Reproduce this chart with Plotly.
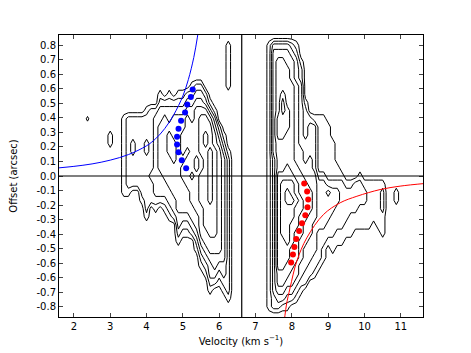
import plotly.graph_objects as go

# Velocity channels (km/s) and offset rows (arcsec, top to bottom)
velocity = [2.25, 2.375, 2.5, 2.625, 2.75, 2.875, 3.0, 3.125, 3.25, 3.375,
            3.5, 3.625, 3.75, 3.875, 4.0, 4.125, 4.25, 4.375, 4.5, 4.625,
            4.75, 4.875, 5.0, 5.125, 5.25, 5.375, 5.5, 5.625, 5.75, 5.875,
            6.0, 6.125, 6.25, 6.375, 6.5, 6.625, 6.75, 6.875, 7.0, 7.125,
            7.25, 7.375, 7.5, 7.625, 7.75, 7.875, 8.0, 8.125, 8.25, 8.375,
            8.5, 8.625, 8.75, 8.875, 9.0, 9.125, 9.25, 9.375, 9.5, 9.625,
            9.75, 9.875, 10.0, 10.125, 10.25, 10.375, 10.5, 10.625, 10.75, 10.875,
            11.0, 11.125, 11.25]
offset = [0.85, 0.80, 0.75, 0.70, 0.65, 0.60, 0.55, 0.50, 0.45, 0.40,
          0.35, 0.30, 0.25, 0.20, 0.15, 0.10, 0.05, 0.0, -0.05, -0.10,
          -0.15, -0.20, -0.25, -0.30, -0.35, -0.40, -0.45, -0.50, -0.55, -0.60,
          -0.65, -0.70, -0.75, -0.80, -0.85]

# Intensity per velocity channel: (first offset row, levels down the offset axis)
channels = [
    (0, ""), (10, "a"), (0, ""), (0, ""), (0, ""), (0, ""), (12, "11"), (0, ""), (0, ""),
    (10, "1111111111"),
    (10, "2222222221"),
    (10, "222332222"),
    (10, "222222222"),
    (10, "22222222221"),
    (9, "12223322222221"),
    (9, "222222223222"),
    (9, "2333333333321"),
    (7, "12334444443332"),
    (8, "23444444443321"),
    (7, "1233455544443321"),
    (8, "234445554444332"),
    (7, "1234444444444443321"),
    (7, "123445554554444321"),
    (7, "234555545555444321"),
    (6, "1234455555565554432"),
    (6, "234555555665555544321"),
    (6, "23456666655666655554321"),
    (7, "23566776666666666554321"),
    (8, "135666777777766665543321"),
    (9, "1345566666666666554432"),
    (11, "234" "5555555555555" "4321"),
    (12, "123" "4444444444444" "3321"),
    (1, "111111" "......." "1" "22222222222222222" "1"),
    (0, ""), (0, ""), (0, ""), (0, ""), (0, ""), (0, ""), (0, ""), (0, ""),
    (1, "11111111111111" "1111111111111111111"),
    (1, "3" "4444444444444" "33333333333333333" "22"),
    (1, "34" "5555555" "666" "5555" "666666666666" "55432"),
    (1, "3455556776665555" "67777777" "6666" "55431"),
    (1, "34455555666555566" "7887777" "7665543" "21"),
    (1, "23444" "55555555555" "6778776665554432"),
    (1, "12333" "4444444444" "55667666555544321"),
    (3, "122" "33333333" "444555665554443321"),
    (8, "12222333445555544433322"),
    (10, "2" "3333" "4444" "555" "444" "333" "22"),
    (10, "1" "333333" "444444" "3333" "22" "1"),
    (10, "1111111" "2" "333333" "2222" "1"),
    (10, "1111111" "2" "333333" "22" "11"),
    (11, "1111111" "2" "4333" "22" "1"),
    (13, "11111" "2" "333" "222" "11"),
    (16, "1123322211"),
    (17, "1" "222222" "11"),
    (18, "1222211"),
    (18, "1222111"),
    (18, "222211"),
    (17, "1222111"),
    (18, "122111"),
    (18, "111111"),
    (18, "11111"),
    (18, "111111"),
    (18, "1222111"),
    (0, ""), (0, ""),
    (19, "11"),
    (0, ""), (0, ""), (0, ""),
]
contour_levels = [0.5, 1.5, 2.5, 3.5, 4.5, 5.5, 6.5, 7.5]

systemic_velocity = 6.62

blue_curve_v = [1.55, 2.0, 2.5, 3.0, 3.5, 4.0, 4.25, 4.5, 4.75, 5.0, 5.15, 5.3, 5.4, 5.47]
blue_curve_off = [0.049, 0.059, 0.074, 0.097, 0.131, 0.185, 0.228, 0.29, 0.375, 0.49, 0.59, 0.725, 0.85, 0.95]
red_curve_v = [7.76, 7.85, 7.95, 8.135, 8.41, 8.87, 9.33, 9.79, 10.43, 10.98, 11.7]
red_curve_off = [-0.95, -0.79, -0.686, -0.522, -0.379, -0.236, -0.164, -0.124, -0.083, -0.062, -0.045]

blue_dots_v = [5.27, 5.22, 5.12, 5.06, 4.95, 4.88, 4.84, 4.84, 4.88, 4.97, 5.09]
blue_dots_off = [0.530, 0.483, 0.437, 0.388, 0.338, 0.289, 0.240, 0.193, 0.146, 0.097, 0.048]
red_dots_v = [8.34, 8.42, 8.45, 8.43, 8.37, 8.28, 8.20, 8.12, 8.07, 8.03, 7.98]
red_dots_off = [-0.046, -0.095, -0.144, -0.191, -0.240, -0.289, -0.336, -0.385, -0.434, -0.481, -0.530]

x_ticks = [2, 3, 4, 5, 6, 7, 8, 9, 10, 11]
y_tickvals = [0.8, 0.7111, 0.6222, 0.5333, 0.4444, 0.3556, 0.2667, 0.1778, 0.0889, 0.0,
              -0.0889, -0.1778, -0.2667, -0.3556, -0.4444, -0.5333, -0.6222, -0.7111, -0.8]
y_ticktext = ["0.8", "0.7", "0.6", "0.6", "0.5", "0.4", "0.3", "0.2", "0.1", "0.0",
              "-0.1", "-0.2", "-0.3", "-0.4", "-0.5", "-0.6", "-0.6", "-0.7", "-0.8"]

special = {".": 0.0, "a": 0.7}
z = [[0.0] * len(velocity) for _ in offset]
for i, (start, prof) in enumerate(channels):
    for k, ch in enumerate(prof):
        if start + k < len(offset):
            z[start + k][i] = special[ch] if ch in special else float(ch)


def contour_segments(level):
    """Linear marching squares on the (offset, velocity) grid -> polyline pieces."""
    xs, ys = [], []
    ny, nx = len(offset), len(velocity)
    for j in range(ny - 1):
        for i in range(nx - 1):
            c = [(velocity[i], offset[j], z[j][i]),
                 (velocity[i + 1], offset[j], z[j][i + 1]),
                 (velocity[i + 1], offset[j + 1], z[j + 1][i + 1]),
                 (velocity[i], offset[j + 1], z[j + 1][i])]
            pts = []
            for k in range(4):
                xa, ya, za = c[k]
                xb, yb, zb = c[(k + 1) % 4]
                if (za > level) != (zb > level):
                    t = (level - za) / (zb - za)
                    pts.append((xa + t * (xb - xa), ya + t * (yb - ya)))
                else:
                    pts.append(None)
            found = [p for p in pts if p is not None]
            if len(found) == 2:
                segs = [(found[0], found[1])]
            elif len(found) == 4:
                centre_high = sum(cc[2] for cc in c) / 4 > level
                if (c[1][2] > level) != centre_high:
                    segs = [(pts[0], pts[1]), (pts[2], pts[3])]
                else:
                    segs = [(pts[3], pts[0]), (pts[1], pts[2])]
            else:
                segs = []
            for p, q in segs:
                xs += [p[0], q[0], None]
                ys += [p[1], q[1], None]
    return xs, ys


font = "DejaVu Sans"
fig = go.Figure()
for lev in contour_levels:
    cx, cy = contour_segments(lev)
    fig.add_trace(go.Scatter(x=cx, y=cy, mode="lines", hoverinfo="skip",
                             line=dict(color="black", width=1)))
fig.add_trace(go.Scatter(x=blue_curve_v, y=blue_curve_off, mode="lines",
                         line=dict(color="#0000ff", width=1, shape="spline")))
fig.add_trace(go.Scatter(x=red_curve_v, y=red_curve_off, mode="lines",
                         line=dict(color="#ff0000", width=1, shape="spline")))
fig.add_trace(go.Scatter(x=blue_dots_v, y=blue_dots_off, mode="markers",
                         marker=dict(color="#0000ff", size=6, line=dict(width=0))))
fig.add_trace(go.Scatter(x=red_dots_v, y=red_dots_off, mode="markers",
                         marker=dict(color="#ff0000", size=6, line=dict(width=0))))
fig.add_hline(y=0, line=dict(color="black", width=1.2))
fig.add_vline(x=systemic_velocity, line=dict(color="black", width=1.2))

# page body adds an 8 px margin, so the figure is sized to fit the 471x353 window
fig.update_layout(
    width=463, height=345, showlegend=False,
    margin=dict(l=51, r=48, t=27, b=36),
    paper_bgcolor="white", plot_bgcolor="white",
    font=dict(family=font, size=10, color="black"),
)
fig.update_xaxes(range=[1.59, 11.61], tickvals=x_ticks, ticks="inside", ticklen=4,
                 mirror="allticks", showline=True, linecolor="black", linewidth=1,
                 showgrid=False, zeroline=False, tickfont=dict(size=10), automargin=False,
                 title=dict(text="Velocity (km s<sup>−1</sup>)", font=dict(size=10), standoff=6))
fig.update_yaxes(range=[-0.863, 0.863], tickvals=y_tickvals, ticktext=y_ticktext,
                 ticks="inside", ticklen=4, mirror="allticks", showline=True,
                 linecolor="black", linewidth=1, showgrid=False, zeroline=False,
                 tickfont=dict(size=10), automargin=False,
                 title=dict(text="Offset (arcsec)", font=dict(size=10), standoff=16))

fig.write_html("out.html")
